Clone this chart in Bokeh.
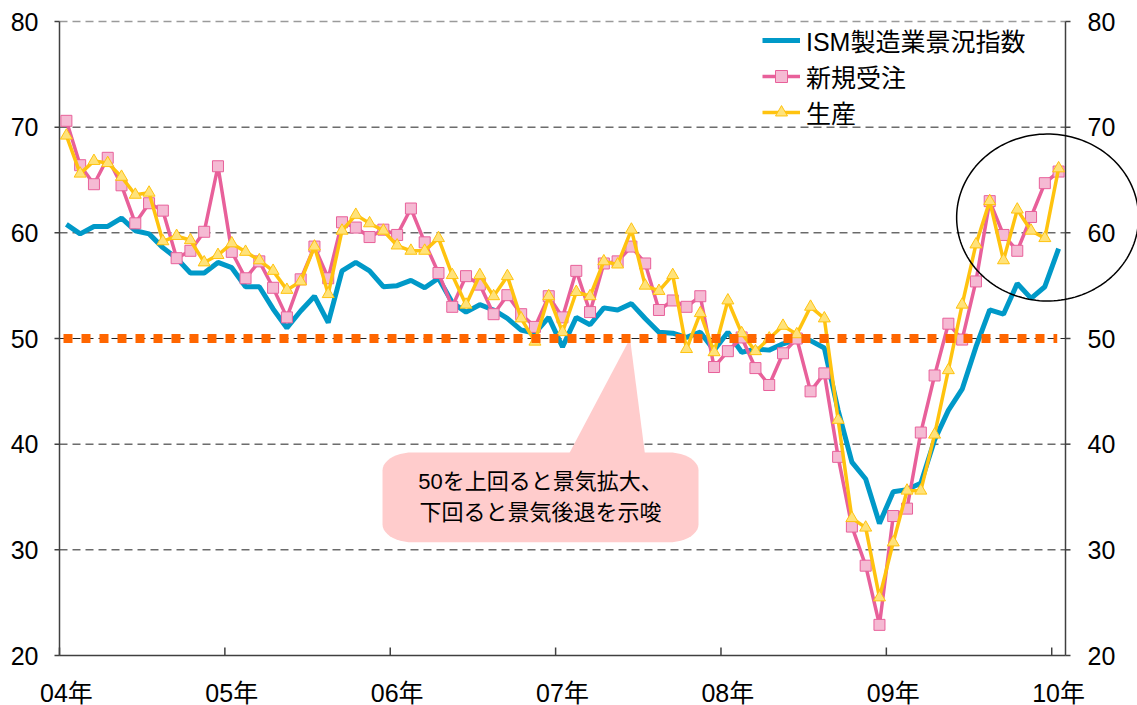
import numpy as np
from bokeh.plotting import figure
from bokeh.models import (Legend, LegendItem, Label, Range1d)
from bokeh.core.properties import value
from bokeh.embed import file_html
from bokeh.resources import INLINE

# ---- data (monthly, Jan 2004 - Jan 2010) ----
year_labels = ["04年", "05年", "06年", "07年", "08年", "09年", "10年"]

ism = [
    60.8, 59.9, 60.6, 60.6, 61.4, 60.2, 59.9, 58.6, 57.6, 56.2, 56.2, 57.2,
    56.7, 54.9, 54.9, 52.8, 51.0, 52.6, 54.0, 51.5, 56.4, 57.2, 56.4, 54.9,
    55.0, 55.5, 54.8, 55.7, 53.4, 52.5, 53.2, 52.7, 51.9, 50.8, 50.5, 52.0,
    49.2, 52.0, 51.3, 52.9, 52.7, 53.3, 51.9, 50.6, 50.5, 50.1, 50.6, 48.9,
    50.6, 48.7, 49.0, 48.9, 49.5, 49.9, 49.8, 49.1, 43.2, 38.3, 36.7, 32.5,
    35.5, 35.7, 36.3, 40.4, 43.2, 45.2, 49.2, 52.7, 52.3, 55.2, 53.8, 54.9,
    58.5,
]
new_orders = [
    70.6, 66.4, 64.6, 67.1, 64.5, 60.9, 62.8, 62.1, 57.6, 58.3, 60.1, 66.3,
    58.2, 55.7, 57.3, 54.8, 52.0, 55.6, 58.7, 55.7, 61.0, 60.5, 59.6, 60.3,
    59.8, 62.3, 59.1, 56.2, 53.0, 55.9, 55.1, 52.3, 54.1, 52.3, 51.1, 54.0,
    52.0, 56.4, 52.5, 57.1, 57.3, 58.7, 57.1, 52.7, 53.6, 53.0, 54.0, 47.3,
    48.8, 50.1, 47.2, 45.6, 48.6, 50.0, 45.0, 46.7, 38.8, 32.2, 28.5, 22.9,
    33.2, 33.9, 41.1, 46.5, 51.4, 49.9, 55.4, 63.0, 59.8, 58.3, 61.5, 64.7,
    65.8,
]
production = [
    69.2, 65.6, 66.8, 66.6, 65.3, 63.6, 63.8, 59.2, 59.7, 59.3, 57.2, 57.9,
    59.0, 58.2, 57.4, 56.4, 54.6, 55.4, 58.7, 54.2, 60.2, 61.7, 60.9, 60.2,
    58.8, 58.3, 58.3, 59.5, 56.0, 53.2, 56.0, 54.0, 55.9, 51.9, 49.7, 54.0,
    50.6, 54.4, 54.0, 57.3, 57.0, 60.3, 55.0, 54.5, 56.0, 49.0, 52.4, 48.7,
    53.6, 50.5, 48.8, 50.0, 51.2, 50.4, 53.0, 51.9, 42.3, 33.0, 32.1, 25.5,
    30.7, 35.6, 35.6, 40.9, 47.0, 53.2, 58.9, 63.0, 57.4, 62.2, 60.2, 59.5,
    66.1,
]
threshold = 50
y_ticks = [20, 30, 40, 50, 60, 70, 80]

# ---- styling ----
BLUE = "#0099C8"
PINK = "#E8609A"
PINK_FILL = "#F5BAD3"
YELLOW = "#FFC30F"
YELLOW_FILL = "#FFE27A"
ORANGE = "#FF6600"
CALLOUT = "#FFCCCC"
AXIS = "#404040"
FONT = "Liberation Sans, Noto Sans CJK JP"

n = len(ism)
x = list(range(n))
y_min, y_max = y_ticks[0], y_ticks[-1]

# The data frame covers the whole canvas, so that the highlight ellipse can cross the
# right-hand axis as in the reference; axes are drawn with glyphs at the chart box.
W, H = 1137, 705
PLOT_L, PLOT_R, PLOT_T, PLOT_B = 59, 1065, 21, 655
PX_X = (PLOT_R - PLOT_L) / n
PX_Y = (PLOT_B - PLOT_T) / (y_max - y_min)
x_start = -0.5
x_end = n - 0.5
x_lo = x_start - PLOT_L / PX_X
x_hi = x_start + (W - PLOT_L) / PX_X
y_hi = y_max + PLOT_T / PX_Y
y_lo = y_min - (H - PLOT_B) / PX_Y

p = figure(width=W, height=H, title=None,
           x_range=Range1d(x_lo, x_hi), y_range=Range1d(y_lo, y_hi),
           x_axis_location=None, y_axis_location=None,
           output_backend="svg", toolbar_location=None,
           min_border_left=0, min_border_right=0,
           min_border_top=0, min_border_bottom=0)
p.outline_line_color = None
p.background_fill_color = "white"
p.border_fill_color = "white"
p.grid.visible = False

txt = dict(text_color="black", text_font=value(FONT), text_font_size=value("25px"),
           text_baseline="middle")

# grid lines
grid_vals = y_ticks[1:-1]
p.segment(x0=[x_start] * len(grid_vals), y0=grid_vals, x1=[x_end] * len(grid_vals),
          y1=grid_vals, line_color="#222222", line_width=1, line_dash="8 5")
p.segment(x0=[x_start], y0=[y_max], x1=[x_end], y1=[y_max],
          line_color="#9a9a9a", line_width=1.5, line_dash="8 5")

# axis spines
p.segment(x0=[x_start, x_start, x_end], y0=[y_min, y_min, y_min],
          x1=[x_start, x_end, x_end], y1=[y_max, y_min, y_max],
          line_color=AXIS, line_width=1.5)

# left axis: outward ticks + labels
p.segment(x0=[x_start - 5 / PX_X] * len(y_ticks), y0=y_ticks,
          x1=[x_start] * len(y_ticks), y1=y_ticks, line_color=AXIS, line_width=1.5)
p.text(x=[x_start - 21 / PX_X] * len(y_ticks), y=y_ticks,
       text=[str(v) for v in y_ticks], text_align="right", **txt)

# right axis: outward ticks + labels
p.segment(x0=[x_end] * len(y_ticks), y0=y_ticks, x1=[x_end + 5 / PX_X] * len(y_ticks),
          y1=y_ticks, line_color=AXIS, line_width=1.5)
p.text(x=[x_end + 22 / PX_X] * len(y_ticks), y=y_ticks,
       text=[str(v) for v in y_ticks], text_align="left", **txt)

# bottom axis: inward ticks at year boundaries, labels under January
year_pos = [12 * k for k in range(len(year_labels))]
bound = [v - 0.5 for v in year_pos]
p.segment(x0=bound, y0=[y_min] * len(bound), x1=bound,
          y1=[y_min + 8 / PX_Y] * len(bound), line_color=AXIS, line_width=1.5)
p.text(x=year_pos, y=[y_min - 37 / PX_Y] * len(year_pos), text=year_labels,
       text_align="center", **txt)

# callout (pink speech balloon)
p.patch([36.4, 40.9, 42.0], [38.9, 50.0, 38.9], fill_color=CALLOUT, line_color=None)
x0, x1, yb, yt = 22.94, 45.87, 30.71, 39.22
rx, rry = 2.2, 1.7
t = np.linspace(0, np.pi / 2, 12)
bx, by = [], []
for cx, cy, a0 in [(x1 - rx, yt - rry, 0), (x0 + rx, yt - rry, np.pi / 2),
                   (x0 + rx, yb + rry, np.pi), (x1 - rx, yb + rry, 1.5 * np.pi)]:
    bx += list(cx + rx * np.cos(t + a0))
    by += list(cy + rry * np.sin(t + a0))
p.patch(bx, by, fill_color=CALLOUT, line_color=None)
p.add_layout(Label(x=34.4, y=34.97, text="50を上回ると景気拡大、\n下回ると景気後退を示唆",
                   text_align="center", text_baseline="middle",
                   text_font=FONT, text_font_size="22px", text_color="black",
                   text_line_height=1.25))

# series
r_ism = p.line(x, ism, line_color=BLUE, line_width=5)
r_no_l = p.line(x, new_orders, line_color=PINK, line_width=3.5)
r_no_m = p.scatter(x, new_orders, marker="square", size=11, fill_color=PINK_FILL,
                   line_color=PINK, line_width=1)
r_pr_l = p.line(x, production, line_color=YELLOW, line_width=3.5)
r_pr_m = p.scatter(x, production, marker="triangle", size=12, fill_color=YELLOW_FILL,
                   line_color=YELLOW, line_width=1)

# 50 threshold line
p.line([-0.21, x[-1] - 0.1], [threshold, threshold], line_color=ORANGE,
       line_width=9, line_dash="9 9")

# highlight ellipse
te = np.linspace(0, 2 * np.pi, 160)
p.line(list(71.2 + 6.6 * np.cos(te)), list(61.45 + 7.9 * np.sin(te)),
       line_color="black", line_width=1.5)

legend = Legend(items=[
    LegendItem(label="ISM製造業景況指数", renderers=[r_ism]),
    LegendItem(label="新規受注", renderers=[r_no_l, r_no_m]),
    LegendItem(label="生産", renderers=[r_pr_l, r_pr_m]),
], location=(703 + PLOT_L, 575), border_line_color=None, background_fill_alpha=0,
    label_text_font=FONT, label_text_font_size="25px", label_text_color="black",
    glyph_width=38, glyph_height=30, label_height=30, spacing=-1, padding=4,
    margin=0, label_standoff=6)
p.add_layout(legend)

open("out.html", "w").write(file_html(p, INLINE))
